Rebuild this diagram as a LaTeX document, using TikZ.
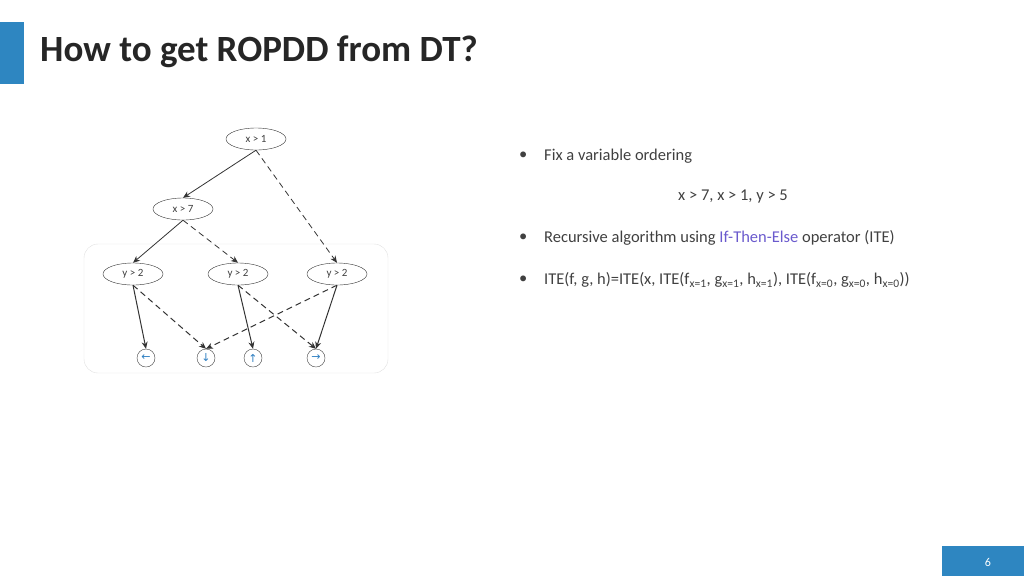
\documentclass[tikz,border=0pt]{standalone}
\usepackage{fontspec}
\setmainfont{Carlito}
\newfontfamily\djv{DejaVu Sans}
\usetikzlibrary{shapes.geometric,arrows.meta}
\definecolor{barblue}{HTML}{2E86C1}
\definecolor{txt}{HTML}{404040}
\definecolor{ite}{HTML}{6A5ACD}
\definecolor{arr}{HTML}{2F7FC1}
\begin{document}
\begin{tikzpicture}[x=1pt,y=-1pt,
  dec/.style={ellipse,draw=black!80,minimum width=60pt,minimum height=22pt,inner sep=0pt,font=\fontsize{11}{11}\selectfont,text=txt},
  leaf/.style={circle,draw=black!75,minimum size=18pt,inner sep=0pt,font=\djv\fontsize{11}{11}\selectfont,text=arr},
  yes/.style={draw=black!80,line width=1pt,-{Stealth[length=7pt,width=6pt]}},
  no/.style={draw=black!80,line width=1pt,dash pattern=on 6pt off 4pt,-{Stealth[length=7pt,width=6pt]}},
  bul/.style={anchor=west,font=\fontsize{16.5}{19}\selectfont,text=txt}]
\useasboundingbox (0,0) rectangle (1024,576);
\fill[barblue] (0,22) rectangle (24,84);
\node[anchor=west,font=\bfseries\fontsize{37}{40}\selectfont,text=black!85,inner sep=0pt] (title) at (40,52) {How to get ROPDD from DT?};
\fill[barblue] (942,546) rectangle (1024,576);
\node[text=white,font=\fontsize{12}{12}\selectfont] (pg) at (988,562) {6};
\draw[black!12,rounded corners=14pt] (84,244) rectangle (388,373);
\node[dec] (a) at (256,139) {x > 1};
\node[dec] (b) at (183,209) {x > 7};
\node[dec] (c1) at (133,274) {y > 2};
\node[dec] (c2) at (238,274) {y > 2};
\node[dec] (c3) at (337,274) {y > 2};
\node[leaf] (l1) at (146,358) {←};
\node[leaf] (l2) at (206,358) {↓};
\node[leaf] (l3) at (253,358) {↑};
\node[leaf] (l4) at (316,358) {→};
\draw[yes,line width=0.8pt] (a.south) -- (b.north);
\draw[no,line width=0.8pt] (a.south) -- (c3.north);
\draw[yes,line width=0.8pt] (b.south) -- (c1.north);
\draw[no,line width=0.8pt] (b.south) -- (c2.north);
\draw[yes] (c1.south) -- (l1.north);
\draw[no] (c1.south) -- (l2.north);
\draw[yes] (c2.south) -- (l3.north);
\draw[no] (c2.south) -- (l4.north);
\draw[no] (c3.south) -- (l2.north);
\draw[yes] (c3.south) -- (l4.north);
\node[bul,inner sep=0pt] (t1b) at (519,156) {•};
\node[bul,inner sep=0pt] (t1) at (544,156) {Fix a variable ordering};
\node[bul,inner sep=0pt,anchor=center] (t2) at (733,197) {x > 7, x > 1, y > 5};
\node[bul,inner sep=0pt] (t3b) at (519,238) {•};
\node[bul,inner sep=0pt] (t3) at (544,238) {Recursive algorithm using \textcolor{ite}{If-Then-Else} operator (ITE)};
\node[bul,inner sep=0pt] (t4b) at (519,280) {•};
\node[bul,inner sep=0pt] (t4) at (544,280) {ITE(f, g, h)=ITE(x, ITE(f\textsubscript{x=1}, g\textsubscript{x=1}, h\textsubscript{x=1}), ITE(f\textsubscript{x=0}, g\textsubscript{x=0}, h\textsubscript{x=0}))};
\end{tikzpicture}
\end{document}
